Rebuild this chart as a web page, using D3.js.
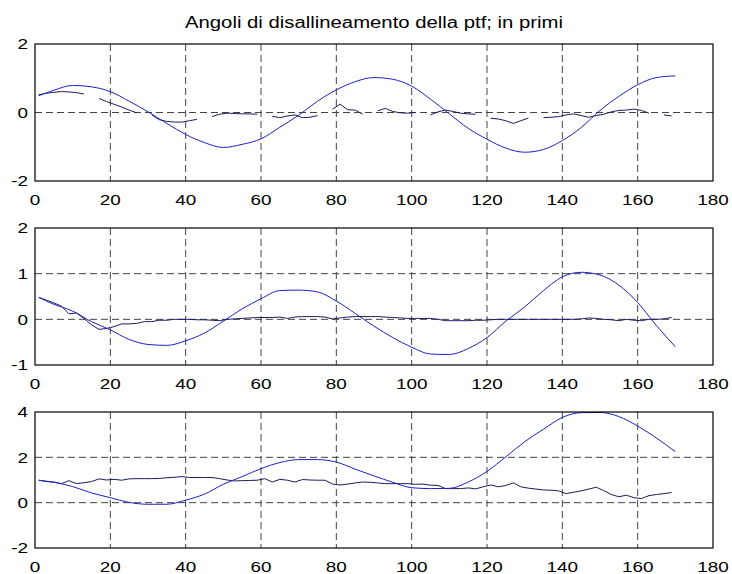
<!DOCTYPE html>
<html>
<head>
<meta charset="utf-8">
<script src="https://cdn.jsdelivr.net/npm/d3@7"></script>
<style>
  body { margin: 0; background: #fff; }
  text { font-family: "Liberation Sans", Arial, sans-serif; fill: #000; }
</style>
</head>
<body>
<svg width="732" height="574"></svg>
<script>
const titleText = "Angoli di disallineamento della ptf; in primi";
const xTicks = [0, 20, 40, 60, 80, 100, 120, 140, 160, 180];

// x grid for the smooth (blue) series and the noisy (dark) series
const tS = [1, 5, 10, 15, 20, 25, 30, 35, 40, 45, 50, 55, 60, 65, 70, 75, 80, 85,
            90, 95, 100, 105, 110, 115, 120, 125, 130, 135, 140, 145, 150, 155, 160, 165, 170];
const tN = d3.range(1, 170, 2);

// subplot 1
const blue1 = [0.49, 0.65, 0.79, 0.75, 0.61, 0.33, 0.02, -0.32, -0.64, -0.88, -1.02, -0.93, -0.77,
               -0.43, -0.08, 0.33, 0.66, 0.90, 1.02, 0.97, 0.77, 0.39, -0.04, -0.46, -0.78, -1.04,
               -1.16, -1.08, -0.82, -0.44, 0.06, 0.47, 0.81, 1.02, 1.07];
const dark1 = [0.52, 0.56, 0.59, 0.61, 0.60, 0.58, 0.54, null, 0.41, 0.32, 0.24, 0.16, 0.07, -0.01,
               null, -0.07, -0.21, -0.26, -0.28, -0.28, -0.24, -0.20, null, -0.12, -0.05, -0.02,
               -0.03, -0.04, -0.04, -0.05, null, -0.11, -0.15, -0.10, -0.07, -0.15, -0.14, -0.09,
               null, 0.10, 0.24, 0.08, 0.07, -0.05, null, 0.05, 0.12, 0.03, -0.01, -0.02, 0.00,
               null, -0.07, 0.02, 0.07, 0.03, -0.02, -0.04, -0.05, null, -0.17, -0.19, -0.24,
               -0.32, -0.24, -0.16, null, -0.15, -0.14, -0.12, -0.07, -0.04, -0.09, -0.14, -0.09,
               -0.05, 0.02, 0.06, 0.07, 0.10, 0.06, -0.02, null, -0.07, -0.10];

// subplot 2
const blue2 = [0.48, 0.33, 0.18, -0.05, -0.23, -0.44, -0.55, -0.57, -0.47, -0.30, -0.04, 0.23, 0.45,
               0.63, 0.64, 0.60, 0.40, 0.13, -0.15, -0.40, -0.61, -0.76, -0.77, -0.64, -0.40, -0.04,
               0.27, 0.63, 0.93, 1.03, 0.97, 0.75, 0.37, -0.14, -0.60];
const dark2 = [0.48, 0.42, 0.36, 0.29, 0.12, 0.14, 0.02, -0.12, -0.22, -0.20, -0.16, -0.10, -0.10,
               -0.09, -0.05, -0.05, -0.02, -0.02, 0.00, 0.00, 0.00, -0.01, -0.01, -0.02, -0.03,
               0.00, 0.01, 0.02, 0.03, 0.04, 0.04, 0.04, 0.05, 0.02, 0.05, 0.06, 0.06, 0.06, 0.05,
               0.01, 0.03, 0.05, 0.06, 0.06, 0.06, 0.06, 0.05, 0.04, 0.03, 0.02, 0.02, 0.02, 0.02,
               0.00, -0.03, -0.03, -0.03, -0.03, -0.02, -0.02, -0.01, 0.00, 0.00, 0.00, 0.00, 0.00,
               0.00, 0.00, 0.00, 0.00, 0.00, 0.00, 0.01, 0.03, 0.02, 0.00, -0.01, -0.03, 0.00,
               -0.02, -0.03, 0.00, 0.00, 0.01, 0.04];

// subplot 3
const blue3 = [0.99, 0.90, 0.71, 0.43, 0.22, 0.01, -0.07, -0.07, 0.11, 0.38, 0.81, 1.15, 1.50, 1.77,
               1.90, 1.90, 1.79, 1.48, 1.18, 0.90, 0.66, 0.62, 0.63, 0.91, 1.38, 2.02, 2.69, 3.24,
               3.76, 3.97, 3.98, 3.80, 3.38, 2.85, 2.25];
const dark3 = [0.99, 0.93, 0.91, 0.84, 0.97, 0.84, 0.88, 0.93, 1.05, 1.00, 1.03, 0.99, 1.05, 1.06,
               1.06, 1.06, 1.07, 1.10, 1.12, 1.15, 1.11, 1.11, 1.11, 1.11, 1.06, 1.00, 0.96, 0.97,
               0.98, 0.99, 1.06, 0.91, 1.03, 0.99, 0.91, 1.02, 1.00, 0.99, 0.99, 0.82, 0.78, 0.82,
               0.87, 0.91, 0.90, 0.87, 0.84, 0.84, 0.84, 0.84, 0.81, 0.82, 0.77, 0.76, 0.62, 0.62,
               0.62, 0.65, 0.61, 0.70, 0.78, 0.70, 0.76, 0.87, 0.70, 0.64, 0.60, 0.56, 0.55, 0.52,
               0.40, 0.46, 0.52, 0.60, 0.68, 0.53, 0.36, 0.26, 0.33, 0.22, 0.18, 0.31, 0.36, 0.40, 0.45];

const panels = [
  {top: 44,  bottom: 181, domain: [-2, 2], yTicks: [-2, 0, 2],     blue: blue1, dark: dark1},
  {top: 228, bottom: 365, domain: [-1, 2], yTicks: [-1, 0, 1, 2],  blue: blue2, dark: dark2},
  {top: 412, bottom: 548, domain: [-2, 4], yTicks: [-2, 0, 2, 4],  blue: blue3, dark: dark3}
];

const svg = d3.select("svg");
const x = d3.scaleLinear().domain([0, 180]).range([35, 713]);
const sx = 1.26; // text in the picture is stretched sideways

svg.append("text")
    .attr("x", 374).attr("y", 28)
    .attr("text-anchor", "middle")
    .attr("font-size", 16)
    .attr("textLength", 378)
    .attr("lengthAdjust", "spacingAndGlyphs")
    .text(titleText);

panels.forEach(p => {
  const y = d3.scaleLinear().domain(p.domain).range([p.bottom, p.top]);
  const g = svg.append("g");

  // grid
  g.selectAll("line.vgrid")
    .data(xTicks.slice(1, -1))
    .enter().append("line")
      .attr("x1", d => x(d)).attr("x2", d => x(d))
      .attr("y1", p.top).attr("y2", p.bottom)
      .attr("stroke", "#444").attr("stroke-dasharray", "7,4");
  g.selectAll("line.hgrid")
    .data(p.yTicks.slice(1, -1))
    .enter().append("line")
      .attr("y1", d => y(d)).attr("y2", d => y(d))
      .attr("x1", x(0)).attr("x2", x(180))
      .attr("stroke", "#444").attr("stroke-dasharray", "7,4");

  const smooth = d3.line()
      .x((d, i) => x(tS[i]))
      .y(d => y(d))
      .curve(d3.curveMonotoneX);
  const noisy = d3.line()
      .defined(d => d !== null)
      .x((d, i) => x(tN[i]))
      .y(d => y(d));

  g.append("path")
      .attr("d", noisy(p.dark))
      .attr("fill", "none")
      .attr("stroke", "#1c1c60")
      .attr("stroke-width", 1);
  g.append("path")
      .attr("d", smooth(p.blue))
      .attr("fill", "none")
      .attr("stroke", "#2020c4")
      .attr("stroke-width", 1);

  // box
  g.append("rect")
      .attr("x", x(0)).attr("y", p.top)
      .attr("width", x(180) - x(0)).attr("height", p.bottom - p.top)
      .attr("fill", "none").attr("stroke", "#000").attr("stroke-width", 1.2);

  // tick labels
  g.selectAll("text.xl")
    .data(xTicks)
    .enter().append("text")
      .attr("transform", d => `translate(${x(d)},${p.bottom + 23.5}) scale(${sx},1)`)
      .attr("text-anchor", "middle")
      .attr("font-size", 15)
      .text(d => d);
  g.selectAll("text.yl")
    .data(p.yTicks)
    .enter().append("text")
      .attr("transform", d => `translate(28,${y(d) + 5.4}) scale(${sx},1)`)
      .attr("text-anchor", "end")
      .attr("font-size", 15)
      .text(d => d);
});
</script>
</body>
</html>
